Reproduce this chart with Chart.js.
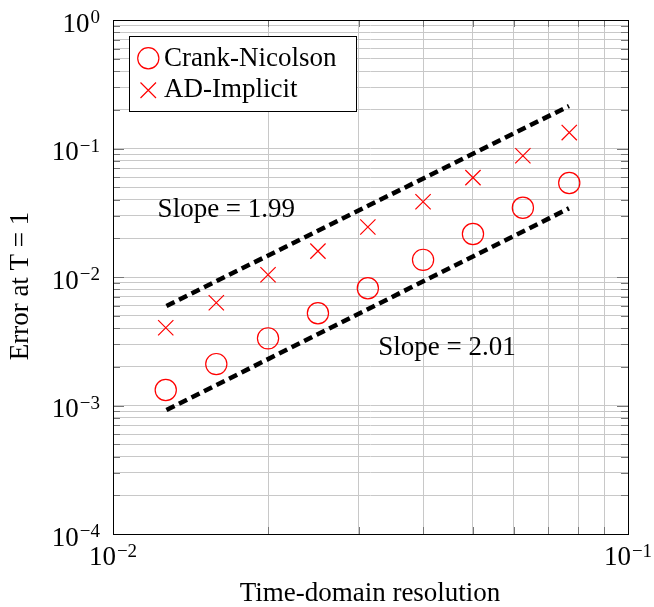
<!DOCTYPE html>
<html>
<head>
<meta charset="utf-8">
<title>Error at T = 1 vs time-domain resolution</title>
<script src="https://cdn.jsdelivr.net/npm/chart.js@4.4.0/dist/chart.umd.min.js"></script>
<style>
  html, body { margin: 0; padding: 0; background: #fff; }
  canvas { display: block; }
</style>
</head>
<body>
<canvas id="chart" width="654" height="607"></canvas>
<script>
// time step sizes and the error each scheme reaches at T = 1
const dt = [0.01266, 0.01587, 0.02, 0.025, 0.03125, 0.04, 0.05, 0.0625, 0.0769];
const crankNicolson = [1.32e-3, 2.10e-3, 3.33e-3, 5.22e-3, 8.17e-3, 1.36e-2, 2.16e-2, 3.46e-2, 5.39e-2];
const adImplicit = [4.03e-3, 6.31e-3, 1.04e-2, 1.59e-2, 2.45e-2, 3.85e-2, 5.93e-2, 8.79e-2, 0.133];

// fitted convergence lines (end points)
const fitX = [0.0127, 0.0768];
const fitUpper = [5.95e-3, 0.214];
const fitLower = [9.22e-4, 3.42e-2];
const slopeText = ['Slope = 1.99', 'Slope = 2.01'];

const xDecades = [-2, -1];
const yDecades = [-4, -3, -2, -1, 0];

const FONT = "'Liberation Serif', 'Times New Roman', serif";
const RED = '#ff0000';

// 1..9 x 10^e for every decade in the range
function logTicks(decades) {
  const out = [];
  decades.forEach(function (e, i) {
    const last = i === decades.length - 1;
    for (let m = 1; m <= (last ? 1 : 9); m++) {
      out.push({ value: parseFloat((m * Math.pow(10, e)).toPrecision(3)), major: m === 1 });
    }
  });
  return out;
}

function powerLabel(ctx, exp, x, y, align) {
  const base = '10';
  const sup = exp < 0 ? '\u2212' + (-exp) : String(exp);
  ctx.font = '27px ' + FONT;
  const wb = ctx.measureText(base).width;
  ctx.font = '19px ' + FONT;
  const ws = ctx.measureText(sup).width;
  const total = wb + ws + 1;
  const left = align === 'right' ? x - total : x - total / 2;
  ctx.textAlign = 'left';
  ctx.textBaseline = 'alphabetic';
  ctx.font = '27px ' + FONT;
  ctx.fillText(base, left, y);
  ctx.font = '19px ' + FONT;
  ctx.fillText(sup, left + wb + 1, y - 8.5);
}

const axisDecor = {
  id: 'axisDecor',
  beforeDatasetsDraw(chart) {
    const ctx = chart.ctx;
    const a = chart.chartArea;
    const xs = chart.scales.x, ys = chart.scales.y;
    ctx.save();
    ctx.strokeStyle = '#777';
    ctx.lineWidth = 1;
    ctx.beginPath();
    xs.ticks.forEach(function (t) {
      const px = Math.round(xs.getPixelForValue(t.value)) + 0.5;
      const len = t.major ? 11 : 7;
      ctx.moveTo(px, a.bottom); ctx.lineTo(px, a.bottom - len);
      ctx.moveTo(px, a.top); ctx.lineTo(px, a.top + len);
    });
    ys.ticks.forEach(function (t) {
      const py = Math.round(ys.getPixelForValue(t.value)) + 0.5;
      const len = t.major ? 11 : 7;
      ctx.moveTo(a.left, py); ctx.lineTo(a.left + len, py);
      ctx.moveTo(a.right, py); ctx.lineTo(a.right - len, py);
    });
    ctx.stroke();
    ctx.restore();
  },
  afterDraw(chart) {
    const ctx = chart.ctx;
    const a = chart.chartArea;
    const xs = chart.scales.x, ys = chart.scales.y;
    ctx.save();

    // frame
    ctx.strokeStyle = '#000';
    ctx.lineWidth = 1;
    ctx.strokeRect(Math.round(a.left) + 0.5, Math.round(a.top) + 0.5,
      Math.round(a.right - a.left), Math.round(a.bottom - a.top));

    ctx.fillStyle = '#000';
    // decade labels
    xDecades.forEach(function (e) {
      powerLabel(ctx, e, xs.getPixelForValue(Math.pow(10, e)), a.bottom + 31, 'center');
    });
    yDecades.forEach(function (e) {
      powerLabel(ctx, e, a.left - 13, ys.getPixelForValue(Math.pow(10, e)) + 11.5, 'right');
    });

    // axis titles
    ctx.font = '27px ' + FONT;
    ctx.textAlign = 'center';
    ctx.textBaseline = 'alphabetic';
    ctx.fillText('Time-domain resolution', (a.left + a.right) / 2 - 0.5, a.bottom + 67);
    ctx.save();
    ctx.translate(28, (a.top + a.bottom) / 2 + 9);
    ctx.rotate(-Math.PI / 2);
    ctx.fillText('Error at T = 1', 0, 0);
    ctx.restore();

    // slope annotations
    ctx.textBaseline = 'middle';
    ctx.fillText(slopeText[0], xs.getPixelForValue(0.0166), ys.getPixelForValue(0.033));
    ctx.fillText(slopeText[1], xs.getPixelForValue(0.0445), ys.getPixelForValue(0.0028));

    // legend
    const lx = 129.5, ly = 36.5, lw = 227, lh = 75;
    ctx.fillStyle = '#fff';
    ctx.fillRect(lx, ly, lw, lh);
    ctx.strokeStyle = '#000';
    ctx.strokeRect(lx, ly, lw, lh);
    ctx.strokeStyle = RED;
    ctx.lineWidth = 1.2;
    ctx.beginPath();
    ctx.arc(148.3, 58.3, 10.6, 0, Math.PI * 2);
    ctx.stroke();
    ctx.beginPath();
    ctx.moveTo(140.5, 82.5); ctx.lineTo(156, 98);
    ctx.moveTo(156, 82.5); ctx.lineTo(140.5, 98);
    ctx.stroke();
    ctx.fillStyle = '#000';
    ctx.textAlign = 'left';
    ctx.textBaseline = 'alphabetic';
    ctx.font = '27px ' + FONT;
    ctx.fillText('Crank-Nicolson', 164, 65.5);
    ctx.fillText('AD-Implicit', 164, 96.5);
    ctx.restore();
  }
};

function pts(xs, ys) {
  return xs.map(function (x, i) { return { x: x, y: ys[i] }; });
}

const fitStyle = {
  showLine: true,
  borderColor: '#000',
  borderWidth: 4.5,
  borderDash: [9, 5],
  pointRadius: 0,
  fill: false
};

new Chart(document.getElementById('chart'), {
  type: 'scatter',
  data: {
    datasets: [
      {
        label: 'Crank-Nicolson',
        data: pts(dt, crankNicolson),
        pointStyle: 'circle',
        pointRadius: 10.6,
        borderColor: RED,
        backgroundColor: 'rgba(0,0,0,0)',
        borderWidth: 1.2
      },
      {
        label: 'AD-Implicit',
        data: pts(dt, adImplicit),
        pointStyle: 'crossRot',
        pointRadius: 10.8,
        borderColor: RED,
        backgroundColor: RED,
        borderWidth: 1.2
      },
      Object.assign({ label: 'fit upper', data: pts(fitX, fitUpper) }, fitStyle),
      Object.assign({ label: 'fit lower', data: pts(fitX, fitLower) }, fitStyle)
    ]
  },
  options: {
    responsive: false,
    animation: false,
    devicePixelRatio: 1,
    layout: { padding: { left: 113, right: 26, top: 20, bottom: 73 } },
    plugins: {
      legend: { display: false },
      tooltip: { enabled: false }
    },
    scales: {
      x: {
        type: 'logarithmic',
        min: 0.01,
        max: 0.1,
        afterBuildTicks: function (s) { s.ticks = logTicks(xDecades); },
        ticks: { display: false },
        grid: { color: '#c8c8c8', lineWidth: 1, drawTicks: false },
        border: { display: false }
      },
      y: {
        type: 'logarithmic',
        min: 1e-4,
        max: 1,
        afterBuildTicks: function (s) { s.ticks = logTicks(yDecades); },
        ticks: { display: false },
        grid: { color: '#c8c8c8', lineWidth: 1, drawTicks: false },
        border: { display: false }
      }
    }
  },
  plugins: [axisDecor]
});
</script>
</body>
</html>
